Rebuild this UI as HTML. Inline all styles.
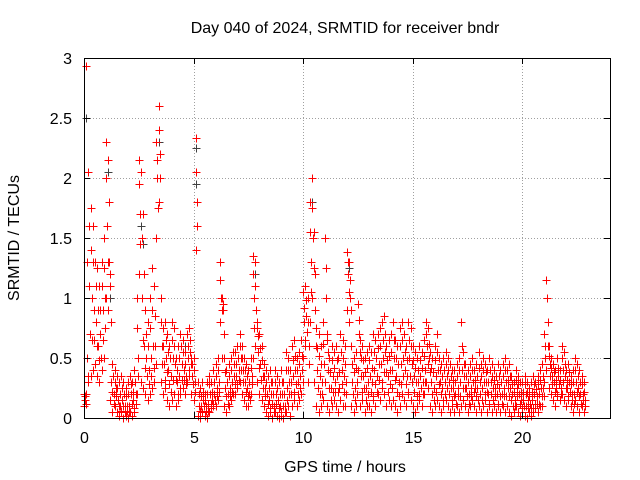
<!DOCTYPE html>
<html><head><meta charset="utf-8"><style>
body{margin:0;background:#fff}
svg{display:block;font-family:"Liberation Sans",sans-serif;font-size:16px}
</style></head><body>
<svg id="c" width="640" height="480">
<rect width="640" height="480" fill="#fff"/>
<text x="345" y="33" text-anchor="middle">Day 040 of 2024, SRMTID for receiver bndr</text>
<text x="345" y="472" text-anchor="middle">GPS time / hours</text>
<text transform="translate(19,238) rotate(-90)" text-anchor="middle">SRMTID / TECUs</text>
<g id="grid"></g><g id="marks" shape-rendering="crispEdges"></g>
<rect x="84.5" y="58.5" width="526" height="360" fill="none" stroke="#000" shape-rendering="crispEdges"/>
<g id="ticks"></g>
</svg>
<script>
const xTicks=[0,5,10,15,20];
const yTicks=[0,0.5,1,1.5,2,2.5,3];
const yTickLabels=["0","0.5","1","1.5","2","2.5","3"];
const tStart=0, tStep=0.1;
const hiVals=[0.2,2.93,2.05,1.75,1.6,1.3,1.25,1.1,1.3,1.5,
2.3,2.15,1.2,0.45,0.4,0.35,0.3,0.35,0.3,0.25,
0.3,0.35,0.3,0.4,1.0,2.15,2.05,1.7,0.9,0.8,
1.0,1.25,1.1,2.3,2.6,1.0,0.75,0.8,0.7,0.6,
0.8,0.75,0.5,0.6,0.7,0.65,0.55,0.7,0.75,0.5,
0.5,2.33,0.3,0.25,0.3,0.2,0.3,0.35,0.3,0.4,
0.45,0.5,1.3,1.0,0.5,0.4,0.45,0.5,0.55,0.55,
0.6,0.7,0.6,0.5,0.45,0.4,0.5,1.35,1.3,0.8,
0.7,0.6,0.45,0.4,0.35,0.4,0.3,0.4,0.35,0.3,
0.4,0.3,0.55,0.5,0.4,0.6,0.65,0.5,0.55,0.65,
1.05,1.1,1.0,1.8,2.0,1.55,0.75,0.7,0.6,0.8,
1.5,0.7,0.5,0.6,0.55,0.6,0.5,0.7,0.65,0.6,
1.38,1.3,0.6,0.5,0.55,0.95,0.65,0.6,0.5,0.55,
0.6,0.55,0.7,0.65,0.7,0.75,0.8,0.85,0.6,0.65,
0.7,0.8,0.65,0.6,0.75,0.8,0.7,0.6,0.8,0.75,
0.6,0.55,0.5,0.6,0.55,0.65,0.8,0.75,0.55,0.5,
0.6,0.7,0.5,0.45,0.5,0.55,0.5,0.45,0.4,0.4,
0.45,0.5,0.8,0.55,0.45,0.4,0.45,0.5,0.4,0.45,
0.55,0.45,0.5,0.45,0.4,0.5,0.45,0.4,0.35,0.45,
0.4,0.45,0.5,0.4,0.45,0.35,0.3,0.4,0.35,0.3,
0.3,0.35,0.3,0.25,0.3,0.35,0.3,0.35,0.4,0.45,
0.7,1.15,0.6,0.5,0.45,0.4,0.5,0.4,0.6,0.55,
0.4,0.45,0.35,0.4,0.5,0.45,0.4,0.35,0.3];
const q3Vals=[0.18,1.3,1.6,1.4,1.3,1.1,0.9,0.9,1.1,1.25,
2.0,1.8,0.8,0.35,0.3,0.25,0.2,0.25,0.2,0.18,
0.2,0.28,0.22,0.3,0.75,1.95,1.5,1.2,0.7,0.6,
0.75,0.9,0.85,2.15,2.4,0.8,0.6,0.65,0.55,0.5,
0.65,0.6,0.4,0.5,0.6,0.55,0.45,0.6,0.65,0.45,
0.4,2.05,0.2,0.18,0.22,0.15,0.2,0.28,0.22,0.3,
0.35,0.4,1.15,0.95,0.38,0.3,0.35,0.4,0.45,0.45,
0.5,0.6,0.5,0.4,0.35,0.3,0.42,1.2,1.1,0.68,
0.58,0.48,0.35,0.3,0.25,0.3,0.2,0.3,0.25,0.2,
0.3,0.2,0.4,0.4,0.3,0.48,0.52,0.4,0.45,0.52,
0.92,0.98,0.8,1.55,1.75,1.2,0.58,0.52,0.45,0.62,
1.25,0.55,0.38,0.48,0.42,0.48,0.38,0.55,0.5,0.45,
1.3,1.15,0.45,0.38,0.42,0.82,0.5,0.48,0.38,0.42,
0.48,0.42,0.55,0.5,0.58,0.6,0.65,0.7,0.48,0.52,
0.55,0.65,0.5,0.45,0.6,0.65,0.55,0.48,0.65,0.6,
0.48,0.42,0.4,0.48,0.42,0.52,0.7,0.62,0.42,0.38,
0.48,0.55,0.4,0.35,0.4,0.45,0.4,0.35,0.32,0.3,
0.35,0.4,0.6,0.45,0.35,0.3,0.35,0.4,0.32,0.35,
0.42,0.35,0.4,0.38,0.3,0.4,0.35,0.32,0.28,0.35,
0.3,0.35,0.4,0.32,0.35,0.28,0.22,0.32,0.28,0.22,
0.22,0.28,0.22,0.18,0.22,0.28,0.24,0.28,0.32,0.35,
0.6,1.0,0.52,0.42,0.38,0.32,0.42,0.32,0.5,0.45,
0.32,0.38,0.28,0.3,0.4,0.35,0.3,0.28,0.22];
const midVals=[0.15,0.5,1.1,1.0,0.9,0.8,0.6,0.7,0.9,1.0,
1.6,1.3,0.3,0.2,0.25,0.15,0.1,0.15,0.1,0.1,
0.1,0.2,0.15,0.2,0.5,1.7,1.0,0.6,0.5,0.4,
0.5,0.6,0.6,2.0,2.2,0.6,0.45,0.5,0.4,0.35,
0.5,0.45,0.3,0.35,0.45,0.4,0.35,0.5,0.55,0.35,
0.3,1.8,0.1,0.1,0.15,0.1,0.12,0.2,0.15,0.2,
0.25,0.3,1.0,0.9,0.25,0.2,0.25,0.3,0.35,0.35,
0.4,0.5,0.4,0.3,0.25,0.2,0.35,1.0,0.9,0.55,
0.45,0.35,0.25,0.2,0.15,0.2,0.1,0.2,0.15,0.1,
0.2,0.1,0.25,0.3,0.2,0.35,0.4,0.3,0.35,0.4,
0.8,0.85,0.6,1.3,1.5,0.9,0.4,0.35,0.3,0.45,
1.0,0.4,0.25,0.35,0.3,0.35,0.25,0.4,0.35,0.3,
1.2,1.0,0.3,0.25,0.3,0.7,0.35,0.35,0.25,0.3,
0.35,0.3,0.4,0.35,0.45,0.45,0.5,0.55,0.35,0.4,
0.4,0.5,0.35,0.3,0.45,0.5,0.4,0.35,0.5,0.45,
0.35,0.3,0.3,0.35,0.3,0.4,0.6,0.5,0.3,0.25,
0.35,0.4,0.3,0.25,0.3,0.35,0.3,0.25,0.25,0.2,
0.25,0.3,0.4,0.35,0.25,0.2,0.25,0.3,0.25,0.25,
0.3,0.25,0.3,0.3,0.2,0.3,0.25,0.25,0.2,0.25,
0.2,0.25,0.3,0.25,0.25,0.2,0.15,0.25,0.2,0.15,
0.15,0.2,0.15,0.12,0.15,0.2,0.18,0.2,0.25,0.25,
0.5,0.8,0.45,0.35,0.3,0.25,0.35,0.25,0.4,0.35,
0.25,0.3,0.2,0.2,0.3,0.25,0.2,0.2,0.15];
const q1Vals=[0.12,0.35,0.7,0.65,0.65,0.6,0.48,0.5,0.65,0.75,
1.3,1.1,0.22,0.12,0.18,0.1,0.06,0.1,0.05,0.06,
0.05,0.12,0.08,0.12,0.35,1.45,0.65,0.42,0.35,0.28,
0.35,0.42,0.45,1.75,2.0,0.45,0.32,0.38,0.28,0.22,
0.32,0.32,0.2,0.25,0.32,0.32,0.28,0.4,0.45,0.28,
0.22,1.6,0.06,0.05,0.1,0.06,0.06,0.12,0.12,0.15,
0.18,0.22,0.9,0.7,0.18,0.12,0.18,0.22,0.28,0.28,
0.32,0.4,0.3,0.22,0.18,0.15,0.28,0.75,0.75,0.42,
0.32,0.25,0.18,0.12,0.08,0.12,0.05,0.12,0.08,0.05,
0.1,0.05,0.15,0.2,0.1,0.22,0.28,0.2,0.25,0.3,
0.65,0.72,0.45,1.05,1.25,0.6,0.25,0.2,0.2,0.3,
0.65,0.25,0.15,0.22,0.22,0.22,0.15,0.28,0.22,0.2,
1.05,0.9,0.2,0.15,0.2,0.55,0.22,0.25,0.15,0.2,
0.22,0.18,0.28,0.22,0.32,0.3,0.38,0.38,0.22,0.28,
0.25,0.32,0.22,0.18,0.28,0.35,0.28,0.22,0.35,0.3,
0.22,0.18,0.2,0.25,0.2,0.3,0.45,0.38,0.2,0.15,
0.22,0.28,0.2,0.15,0.2,0.25,0.2,0.15,0.18,0.12,
0.18,0.18,0.25,0.25,0.18,0.12,0.18,0.22,0.18,0.15,
0.2,0.15,0.2,0.22,0.12,0.2,0.15,0.18,0.12,0.18,
0.12,0.18,0.18,0.18,0.15,0.1,0.1,0.18,0.12,0.08,
0.1,0.1,0.08,0.08,0.08,0.12,0.12,0.12,0.18,0.18,
0.4,0.6,0.35,0.28,0.22,0.18,0.28,0.2,0.3,0.25,
0.18,0.22,0.15,0.12,0.22,0.18,0.12,0.15,0.1];
const loVals=[0.1,0.2,0.3,0.35,0.4,0.45,0.35,0.3,0.4,0.5,
1.0,0.9,0.15,0.05,0.1,0.05,0.02,0.05,0.0,0.02,
0.0,0.05,0.02,0.05,0.2,1.2,0.3,0.25,0.2,0.15,
0.2,0.25,0.3,1.5,1.8,0.3,0.2,0.25,0.15,0.1,
0.15,0.2,0.1,0.15,0.2,0.25,0.2,0.3,0.35,0.2,
0.15,1.4,0.02,0.0,0.05,0.02,0.0,0.05,0.08,0.1,
0.1,0.15,0.8,0.5,0.1,0.05,0.1,0.15,0.2,0.2,
0.25,0.3,0.2,0.15,0.1,0.1,0.2,0.5,0.6,0.3,
0.2,0.15,0.1,0.05,0.02,0.05,0.0,0.05,0.02,0.0,
0.02,0.0,0.05,0.1,0.02,0.1,0.15,0.1,0.15,0.2,
0.5,0.6,0.3,0.8,1.0,0.3,0.1,0.05,0.1,0.15,
0.3,0.1,0.05,0.1,0.15,0.1,0.05,0.15,0.1,0.1,
0.9,0.8,0.1,0.05,0.1,0.4,0.1,0.15,0.05,0.1,
0.1,0.05,0.15,0.1,0.2,0.15,0.25,0.2,0.1,0.15,
0.1,0.15,0.1,0.05,0.1,0.2,0.15,0.1,0.2,0.15,
0.1,0.05,0.1,0.15,0.1,0.2,0.3,0.25,0.1,0.05,
0.1,0.15,0.1,0.05,0.1,0.15,0.1,0.05,0.1,0.05,
0.1,0.05,0.1,0.15,0.1,0.05,0.1,0.15,0.1,0.05,
0.1,0.05,0.1,0.15,0.05,0.1,0.05,0.1,0.05,0.1,
0.05,0.1,0.05,0.1,0.05,0.02,0.05,0.1,0.05,0.02,
0.05,0.02,0.0,0.05,0.02,0.05,0.08,0.05,0.1,0.1,
0.3,0.4,0.25,0.2,0.15,0.1,0.2,0.15,0.2,0.15,
0.1,0.15,0.1,0.05,0.15,0.1,0.05,0.1,0.05];
const greyTimes=[0.1,1.1,2.6,2.7,3.4,5.1,5.1,10.4,10.3,12.1,7.8,0.4,1.2,4.6];
const greyVals=[2.5,2.05,1.6,1.45,2.3,1.95,2.25,1.8,1.55,1.25,1.2,1.3,1.0,0.6];

const X0=84,X1=610,Y0=418,Y1=58,XMAX=24,YMAX=3;
const xs=t=>X0+(t/XMAX)*(X1-X0);
const ys=v=>Y0-(v/YMAX)*(Y0-Y1);
const NS="http://www.w3.org/2000/svg";
const grid=document.getElementById('grid'),ticks=document.getElementById('ticks'),marks=document.getElementById('marks');
function mk(tag,attrs,parent){const e=document.createElementNS(NS,tag);for(const k in attrs)e.setAttribute(k,attrs[k]);parent.appendChild(e);return e;}
yTicks.forEach((v,i)=>{
  const y=Math.round(ys(v))+0.5;
  if(v>0&&v<YMAX){const g=mk('line',{x1:X0,x2:X1,y1:y,y2:y,stroke:'#a0a0a0','stroke-dasharray':'1,2','shape-rendering':'crispEdges'},grid);
  
  }
  mk('line',{x1:X0,x2:X0+6,y1:y,y2:y,stroke:'#000','shape-rendering':'crispEdges'},ticks);
  mk('line',{x1:X1,x2:X1-6,y1:y,y2:y,stroke:'#000','shape-rendering':'crispEdges'},ticks);
  const t=mk('text',{x:X0-12,y:y+5.5,'text-anchor':'end'},ticks);t.textContent=yTickLabels[i];
  
  
});
xTicks.forEach(v=>{
  const x=Math.round(xs(v))+0.5;
  if(v>0){const g=mk('line',{x1:x,x2:x,y1:Y0,y2:Y1,stroke:'#a0a0a0','stroke-dasharray':'1,2','shape-rendering':'crispEdges'},grid);
  
  }
  mk('line',{x1:x,x2:x,y1:Y0,y2:Y0-6,stroke:'#000','shape-rendering':'crispEdges'},ticks);
  mk('line',{x1:x,x2:x,y1:Y1,y2:Y1+6,stroke:'#000','shape-rendering':'crispEdges'},ticks);
  const t=mk('text',{x:x,y:Y0+25,'text-anchor':'middle'},ticks);t.textContent=String(v);
  
  
});
function plus(t,v,col,name){
  const x=Math.round(xs(t))+0.5,y=Math.round(ys(v))+0.5;
  const p=mk('path',{d:`M${x-4},${y}H${x+4}M${x},${y-4}V${y+4}`,stroke:col,'stroke-width':1,fill:'none'},marks);
  
  
}
greyTimes.forEach((t,i)=>plus(t,greyVals[i],'#404040','grey-point'));
hiVals.forEach((v,i)=>plus(tStart+i*tStep,v,'#ff0000','point-high'));
q3Vals.forEach((v,i)=>plus(tStart+i*tStep+0.025,v,'#ff0000','point-upper'));
midVals.forEach((v,i)=>plus(tStart+i*tStep+0.05,v,'#ff0000','point-mid'));
q1Vals.forEach((v,i)=>plus(tStart+i*tStep+0.075,v,'#ff0000','point-lower'));
loVals.forEach((v,i)=>plus(tStart+i*tStep,v,'#ff0000','point-low'));
</script>
</body></html>
